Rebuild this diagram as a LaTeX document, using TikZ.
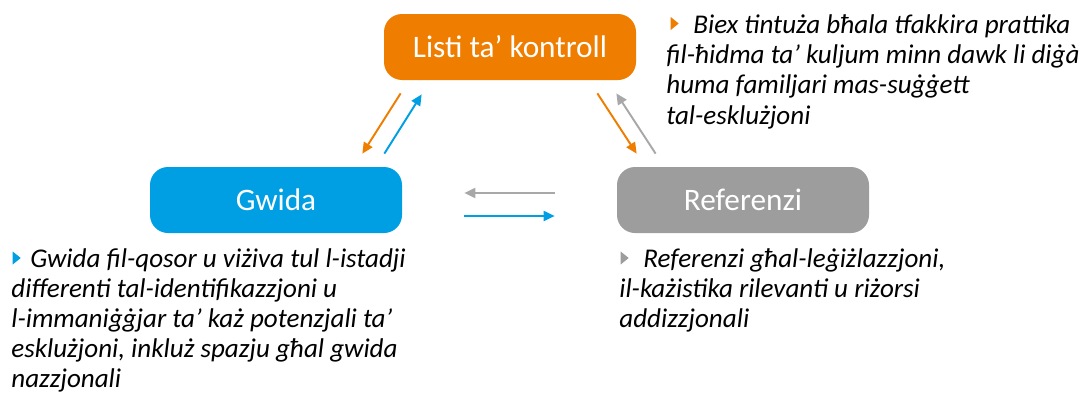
\documentclass[tikz,border=0pt]{standalone}
\usepackage{fontspec}
\setmainfont{Carlito}
\usetikzlibrary{arrows.meta,positioning,calc}
\definecolor{corange}{HTML}{EF7D00}
\definecolor{cblue}{HTML}{009FE3}
\definecolor{cgray}{HTML}{9D9D9D}
\definecolor{carrowgray}{HTML}{A8A8A8}
\newcommand{\notebullet}[2]{\fill[#1] (#2) -- ++(8,6.5) -- ++(-8,6.5) -- cycle;}

\begin{document}
\begin{tikzpicture}[
  x=0.02cm, y=-0.02cm,
  box/.style={rounded corners=18*0.02cm, minimum width=252*0.02cm,
              minimum height=66*0.02cm, inner sep=0pt, text=white,
              font=\fontsize{17.8}{20}\selectfont},
  note/.style={inner sep=0pt, anchor=north west, align=left,
               font=\fontsize{15.4}{17.2}\selectfont\itshape},
  flow/.style={-{Triangle[length=0.22cm,width=0.2cm]}, line width=1.1pt}
]
\useasboundingbox (0,0) rectangle (1080,396);

\node[box, fill=corange] (list) at (510,47) {Listi ta’ kontroll};
\node[box, fill=cblue]   (gwida) at (276,200) {Gwida};
\node[box, fill=cgray]   (ref)   at (743,200) {Referenzi};

\draw[flow, corange] ($(list.south west)+(17,13)$) -- ($(gwida.north east)+(-40,-13)$);
\draw[flow, cblue]   ($(gwida.north east)+(-18,-13)$) -- ($(list.south west)+(38,14)$);
\draw[flow, corange] ($(list.south east)+(-39,13)$) -- ($(ref.north west)+(20,-13)$);
\draw[flow, carrowgray] ($(ref.north west)+(39,-13)$) -- ($(list.south east)+(-20,13)$);
\draw[flow, carrowgray] ($(ref.west)+(-62,-7)$) -- ($(gwida.east)+(62,-7)$);
\draw[flow, cblue]   ($(gwida.east)+(62,16)$) -- ($(ref.west)+(-62,16)$);

% notes
\node[note] (listnote) at (666,12) {\strut\hspace*{0.54cm}Biex tintuża bħala tfakkira prattika\\
  fil-ħidma ta’ kuljum minn dawk li diġà\\
  huma familjari mas-suġġett\\
  tal-esklużjoni};
\node[note] (gwidanote) at (11,245.5) {\strut\hspace*{0.38cm}Gwida fil-qosor u viżiva tul l-istadji\\
  differenti tal-identifikazzjoni u\\
  l-immaniġġjar ta’ każ potenzjali ta’\\
  esklużjoni, inkluż spazju għal gwida\\
  nazzjonali};
\node[note] (refnote) at (619,245.5) {\strut\hspace*{0.48cm}Referenzi għal-leġiżlazzjoni,\\
  il-każistika rilevanti u riżorsi\\
  addizzjonali};

\notebullet{corange}{$(listnote.north west)+(4.7,5)$}
\notebullet{cblue}{$(gwidanote.north west)+(1.7,6)$}
\notebullet{cgray}{$(refnote.north west)+(1.7,6)$}
\end{tikzpicture}
\end{document}
